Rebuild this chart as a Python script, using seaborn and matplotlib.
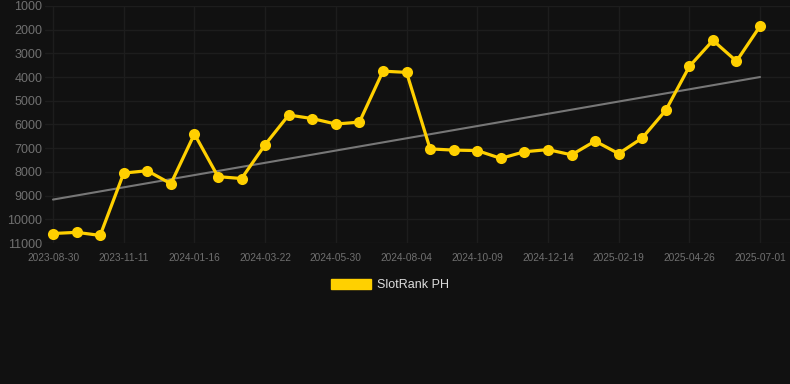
import numpy as np
import pandas as pd

import matplotlib
matplotlib.use("Agg")
import matplotlib.pyplot as plt
from matplotlib.patches import Patch
import seaborn as sns

# ==========================================
# DATA
# ==========================================

dates = [
    "2023-08-30", "2023-09-23", "2023-10-17",
    "2023-11-11", "2023-12-03", "2023-12-25",
    "2024-01-16", "2024-02-07", "2024-02-29",
    "2024-03-22", "2024-04-14", "2024-05-07",
    "2024-05-30", "2024-06-21", "2024-07-13",
    "2024-08-04", "2024-08-26", "2024-09-17",
    "2024-10-09", "2024-10-31", "2024-11-22",
    "2024-12-14", "2025-01-05", "2025-01-27",
    "2025-02-19", "2025-03-13", "2025-04-04",
    "2025-04-26", "2025-05-18", "2025-06-09",
    "2025-07-01",
]

rank = [
    10600, 10550, 10680,
    8050, 7950, 8500,
    6400, 8200, 8280,
    6850, 5600, 5750,
    5980, 5900, 3750,
    3800, 7030, 7080,
    7100, 7430, 7150,
    7060, 7280, 6700,
    7230, 6570, 5400,
    3550, 2450, 3330,
    1850,
]

y_ticks = [1000, 2000, 3000, 4000, 5000, 6000, 7000, 8000, 9000, 10000, 11000]

series_name = "SlotRank PH"

df = pd.DataFrame({"idx": np.arange(len(dates)), "date": dates, "rank": rank})

# linear trend
coef = np.polyfit(df["idx"], df["rank"], 1)
df["trend"] = np.polyval(coef, df["idx"])

# ==========================================
# STYLE
# ==========================================

bg = "#111111"
grid_c = "#1d1d1d"
tick_c = "#707070"
gold = "#ffd000"

sns.set_theme(style="dark", rc={
    "figure.facecolor": bg,
    "axes.facecolor": bg,
    "savefig.facecolor": bg,
})
plt.rcParams["font.family"] = ["Liberation Sans", "DejaVu Sans"]

# ==========================================
# PLOT
# ==========================================

fig = plt.figure(figsize=(7.9, 3.84), dpi=100)
ax = fig.add_axes([45 / 790, 141 / 384, 745 / 790, 237 / 384])

sns.lineplot(data=df, x="idx", y="trend", ax=ax, color="#777777",
             linewidth=1.5, legend=False)
sns.lineplot(data=df, x="idx", y="rank", ax=ax, color=gold,
             linewidth=2.3, marker="o", markersize=8,
             markeredgewidth=0, legend=False)

ax.set_ylim(11000, 1000)
ax.set_xlim(-0.34, 31.27)

ax.set_yticks(y_ticks)
ax.set_yticklabels([str(v) for v in y_ticks])
tick_idx = list(range(0, len(dates), 3))
ax.set_xticks(tick_idx)
ax.set_xticklabels([dates[i] for i in tick_idx])

ax.tick_params(axis="y", colors=tick_c, labelsize=9, length=0, pad=2)
ax.tick_params(axis="x", colors=tick_c, labelsize=7.3, length=0, pad=7)

ax.grid(True, color=grid_c, linewidth=1)
for s in ax.spines.values():
    s.set_visible(False)

ax.set_xlabel("")
ax.set_ylabel("")

fig.legend(
    handles=[Patch(facecolor=gold, edgecolor=gold)],
    labels=[series_name],
    loc="center",
    bbox_to_anchor=(390 / 790, 1 - 285 / 384),
    frameon=False,
    fontsize=9,
    labelcolor="#dddddd",
    handlelength=3.2,
    handleheight=0.9,
    handletextpad=0.5,
)

fig.savefig("out.png", dpi=100)
plt.close()
